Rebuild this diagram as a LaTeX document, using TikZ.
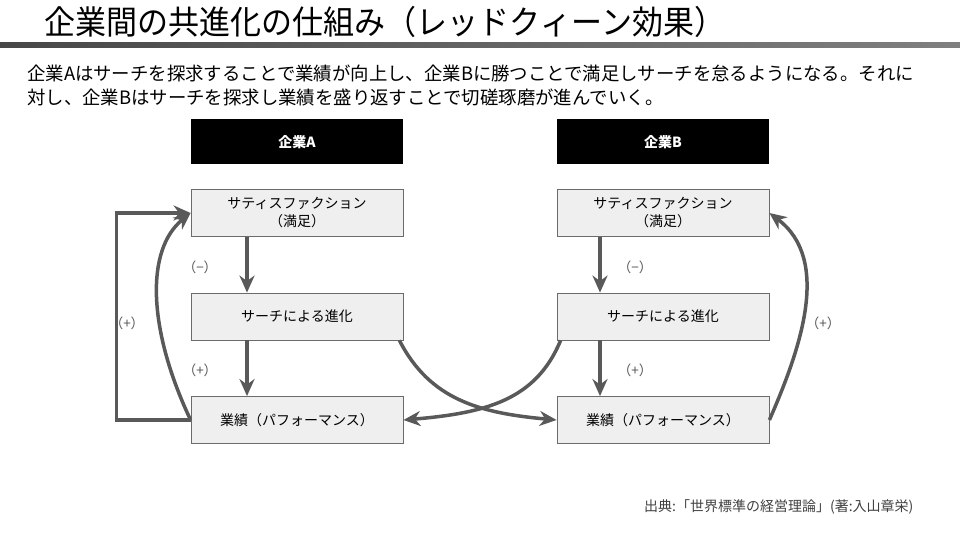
\documentclass[tikz,border=0pt]{standalone}
\usepackage{fontspec}
\setmainfont{Noto Sans CJK JP}
\usepackage{tikz}
\usetikzlibrary{arrows.meta, positioning}

\definecolor{boxfill}{HTML}{EFEFEF}
\definecolor{boxline}{HTML}{6B6B6B}
\definecolor{arrowgray}{HTML}{595959}
\definecolor{labelgray}{HTML}{555555}

\tikzset{
	box/.style = {draw=boxline, fill=boxfill, line width=0.8pt, minimum width=212pt, minimum height=47pt, align=center, font=\fontsize{14}{18}\selectfont},
	head/.style = {fill=black, text=white, minimum width=212pt, minimum height=45pt, font=\fontsize{14}{18}\selectfont\bfseries},
	sign/.style = {text=labelgray, font=\fontsize{13.5}{15}\selectfont},
	link/.style = {-{Stealth[length=17pt, width=15pt]}, line width=3.5pt, draw=arrowgray},
}

\begin{document}
\begin{tikzpicture}[x=1pt, y=-1pt]
	\useasboundingbox (0,0) rectangle (960,540);

	% title and rule
	\node (title) [anchor=west, font=\fontsize{33}{36}\selectfont] at (41,22) {\scalebox{0.94}[1]{企業間の共進化の仕組み（レッドクィーン効果）}};
	\shade [left color=black!72, right color=black!50] (0,42.5) rectangle (960,47.5);

	% explanation
	\node (line1) [anchor=west, inner sep=0pt, font=\fontsize{18.4}{21}\selectfont] at (27,73) {企業Aはサーチを探求することで業績が向上し、企業Bに勝つことで満足しサーチを怠るようになる。それに};
	\node (line2) [anchor=west, inner sep=0pt, font=\fontsize{18.4}{21}\selectfont] at (27,97) {対し、企業Bはサーチを探求し業績を盛り返すことで切磋琢磨が進んでいく。};

	% company A
	\node (hA) [head] at (297,142) {企業A};
	\node (sA) [box] at (297,213) {サティスファクション\\（満足）};
	\node (eA) [box] at (297,316.5) {サーチによる進化};
	\node (pA) [box] at (297,420) {業績（パフォーマンス）};

	% company B
	\node (hB) [head] at (663,142) {企業B};
	\node (sB) [box] at (663,213) {サティスファクション\\（満足）};
	\node (eB) [box] at (663,316.5) {サーチによる進化};
	\node (pB) [box] at (663,420) {業績（パフォーマンス）};

	% arrows inside each column
	\draw [link] ([xshift=-50pt]sA.south) -- ([xshift=-50pt]eA.north);
	\draw [link] ([xshift=-50pt]eA.south) -- ([xshift=-50pt]pA.north);
	\draw [link] ([xshift=-63pt]sB.south) -- ([xshift=-63pt]eB.north);
	\draw [link] ([xshift=-63pt]eB.south) -- ([xshift=-63pt]pB.north);

	% feedback loops
	\draw [link] (pA.west) -- ++(-74,0) |- (sA.west);
	\draw [link] (pA.west) .. controls (148,330) and (145,250) .. (sA.west);
	\draw [link] (pB.east) .. controls (800,350) and (832,260) .. (sB.east);

	% crossing influence
	\draw [link] ([xshift=-4pt]eA.south east) .. controls (430,400) and (480,413) .. (pB.west);
	\draw [link] ([xshift=4pt]eB.south west) .. controls (536,400) and (486,413) .. (pA.east);

	% signs
	\node (mA) [sign] at (200,267) {（−）};
	\node (qA) [sign] at (200,370) {（+）};
	\node (mB) [sign] at (635,267) {（−）};
	\node (qB) [sign] at (635,370) {（+）};
	\node (lA) [sign] at (127,323) {（+）};
	\node (lB) [sign] at (823,323) {（+）};

	% source
	\node (src) [anchor=east, text=black!75, font=\fontsize{14}{16}\selectfont] at (917,507) {出典:「世界標準の経営理論」(著:入山章栄)};
\end{tikzpicture}
\end{document}
